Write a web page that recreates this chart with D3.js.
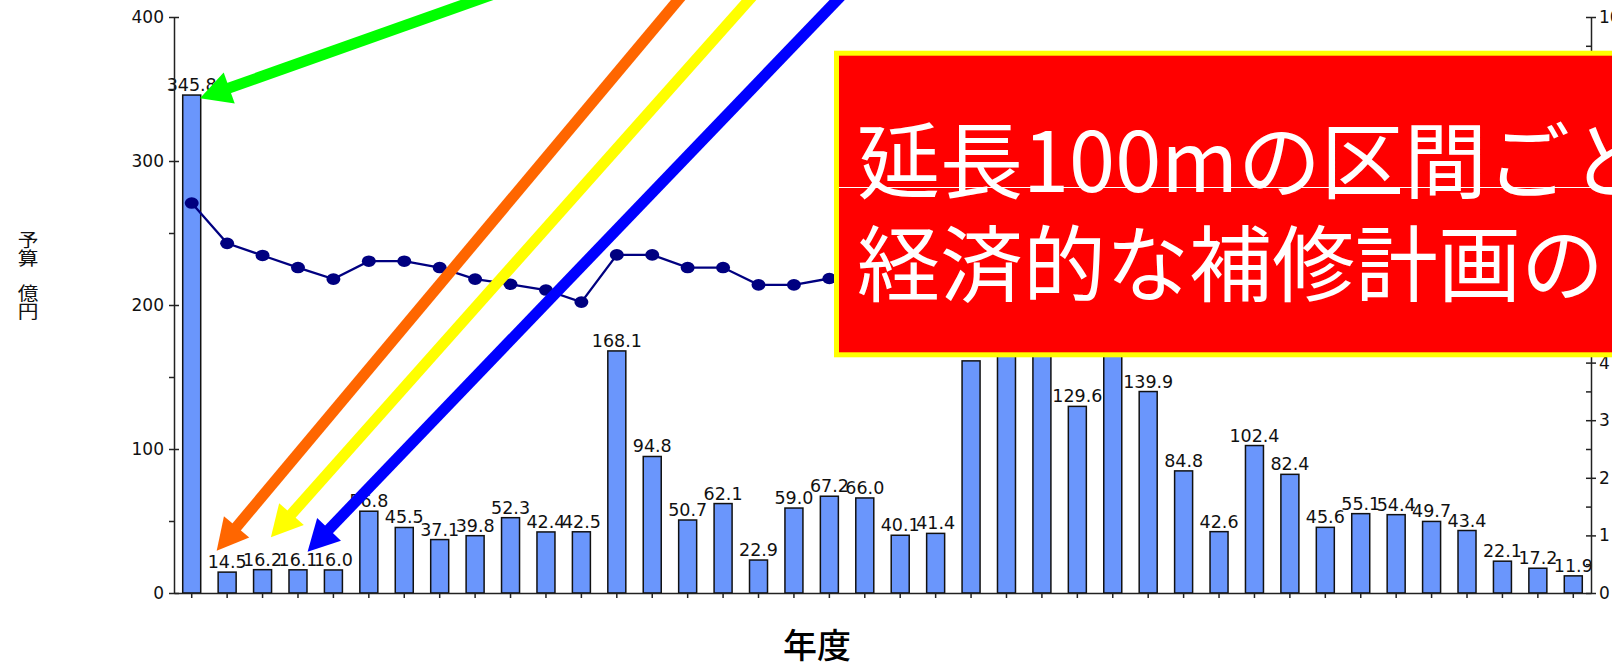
<!DOCTYPE html>
<html>
<head>
<meta charset="utf-8">
<script src="https://cdn.jsdelivr.net/npm/d3@7/dist/d3.min.js"></script>
<style>
  html, body { margin: 0; padding: 0; background: #ffffff; overflow: hidden; }
  svg { display: block; }
</style>
</head>
<body>
<svg id="chart" width="1612" height="664"></svg>
<script>
// Fiscal-year slots along the x axis (unlabelled in the chart)
const periods = ["1","2","3","4","5","6","7","8","9","10",
                 "11","12","13","14","15","16","17","18","19","20",
                 "21","22","23","24","25","26","27","28","29","30",
                 "31","32","33","34","35","36","37","38","39","40"];

// Budget per year (億円), left axis
const budget = [345.8, 14.5, 16.2, 16.1, 16.0, 56.8, 45.5, 37.1, 39.8, 52.3,
                42.4, 42.5, 168.1, 94.8, 50.7, 62.1, 22.9, 59.0, 67.2, 66.0,
                40.1, 41.4, 161.2, 196.5, 214.3, 129.6, 183.7, 139.9, 84.8, 42.6,
                102.4, 82.4, 45.6, 55.1, 54.4, 49.7, 43.4, 22.1, 17.2, 11.9];

// Soundness index per year, right axis
const soundness = [6.77, 6.07, 5.86, 5.65, 5.45, 5.76, 5.76, 5.65, 5.45, 5.36,
                   5.26, 5.05, 5.87, 5.87, 5.65, 5.65, 5.35, 5.35, 5.46, 5.52,
                   5.52, 5.41, 5.63, 5.63, 5.48, 5.40, 5.40, 5.31, 5.57, 5.57,
                   5.44, 5.35, 5.35, 5.26, 5.22, 5.22, 5.15, 5.10, 5.10, 5.04];

// Axis ticks
const leftMajor = [0, 100, 200, 300, 400];
const leftMinor = [50, 150, 250, 350];
const rightMajor = [0, 1, 2, 3, 4, 5, 6, 7, 8, 9, 10];
const rightMinor = [0.5, 1.5, 2.5, 3.5, 4.5, 5.5, 6.5, 7.5, 8.5, 9.5];

// Callout arrows: tip and tail in (slot units, budget units)
const arrowColors    = ["#00ff00", "#ff6600", "#ffff00", "#0000ff"];
const arrowTipSlot   = [0.734, 1.205, 2.735, 3.771];
const arrowTipValue  = [343.5, 29.4, 38.7, 28.7];
const arrowTailSlot  = [11.78, 15.19, 17.25, 19.82];
const arrowTailValue = [440, 440, 440, 440];

// Banner text
const bannerLines = ["延長100mの区間ごと", "経済的な補修計画の"];
const yLabelChars = ["予", "算", "億", "円"];
const xLabel = "年度";

const svg = d3.select("#chart");
const plotL = 174, plotR = 1591, plotT = 17, plotB = 593;

const x = d3.scaleBand().domain(periods).range([plotL, plotR]).paddingInner(0).paddingOuter(0);
const slot = d3.scaleLinear().domain([0, periods.length]).range([plotL, plotR]);
const y = d3.scaleLinear().domain([0, 400]).range([plotB, plotT]);
const yR = d3.scaleLinear().domain([0, 10]).range([plotB, plotT]);

const barW = 18;
const numFont = "'DejaVu Sans', sans-serif";
const cjkFont = "'Noto Sans CJK JP', 'Noto Sans', sans-serif";
const cx = i => x(periods[i]) + x.bandwidth() / 2;

// Bars
svg.append("g").selectAll("rect")
  .data(budget)
  .join("rect")
  .attr("x", (d, i) => cx(i) - barW / 2)
  .attr("y", d => y(d))
  .attr("width", barW)
  .attr("height", d => y(0) - y(d))
  .attr("fill", "#6a96fc")
  .attr("stroke", "#111")
  .attr("stroke-width", 1.5);

// Bar value labels
svg.append("g").selectAll("text")
  .data(budget)
  .join("text")
  .attr("x", (d, i) => cx(i))
  .attr("y", d => y(d) - 4)
  .attr("text-anchor", "middle")
  .attr("font-family", numFont)
  .attr("font-size", 17.5)
  .attr("fill", "#111")
  .text(d => d.toFixed(1));

// Axes
function styleAxis(g) {
  g.selectAll("path.domain").attr("stroke", "#222").attr("stroke-width", 1.5);
  g.selectAll(".tick line").attr("stroke", "#222").attr("stroke-width", 1.5);
  g.selectAll(".tick text").attr("font-family", numFont).attr("font-size", 17).attr("fill", "#111");
}

const gL = svg.append("g").attr("transform", `translate(${plotL},0)`)
  .call(d3.axisLeft(y).tickValues(leftMajor).tickSize(5).tickSizeOuter(0).tickPadding(5).tickFormat(d3.format("d")));
gL.selectAll(".tick line").attr("x1", 5);
styleAxis(gL);
const gLm = svg.append("g").attr("transform", `translate(${plotL},0)`)
  .call(d3.axisLeft(y).tickValues(leftMinor).tickSize(5).tickFormat(""));
gLm.select("path.domain").remove();
styleAxis(gLm);

const gR = svg.append("g").attr("transform", `translate(${plotR},0)`)
  .call(d3.axisRight(yR).tickValues(rightMajor).tickSize(5).tickSizeOuter(0).tickPadding(3).tickFormat(d3.format("d")));
gR.selectAll(".tick line").attr("x1", -5);
styleAxis(gR);
const gRm = svg.append("g").attr("transform", `translate(${plotR},0)`)
  .call(d3.axisLeft(yR).tickValues(rightMinor).tickSize(5).tickFormat(""));
gRm.select("path.domain").remove();
styleAxis(gRm);

const gX = svg.append("g").attr("transform", `translate(0,${plotB})`)
  .call(d3.axisBottom(x).tickSize(5).tickSizeOuter(0).tickFormat(""));
styleAxis(gX);

// Soundness line with markers
const lineGen = d3.line()
  .x((d, i) => cx(i))
  .y(d => yR(d));
svg.append("path")
  .datum(soundness)
  .attr("d", lineGen)
  .attr("fill", "none")
  .attr("stroke", "#000080")
  .attr("stroke-width", 2.3);
svg.append("g").selectAll("ellipse")
  .data(soundness)
  .join("ellipse")
  .attr("cx", (d, i) => cx(i))
  .attr("cy", d => yR(d))
  .attr("rx", 7)
  .attr("ry", 5.8)
  .attr("fill", "#000080");

// Callout arrows
const headLen = 31, headHalf = 16.5, shaftW = 11;
const gA = svg.append("g");
arrowColors.forEach((c, k) => {
  const tx = slot(arrowTipSlot[k]), ty = y(arrowTipValue[k]);
  const ex = slot(arrowTailSlot[k]), ey = y(arrowTailValue[k]);
  const dx = ex - tx, dy = ey - ty, len = Math.hypot(dx, dy);
  const ux = dx / len, uy = dy / len, px = -uy, py = ux;
  const bx = tx + ux * headLen, by = ty + uy * headLen;
  gA.append("line")
    .attr("x1", tx + ux * (headLen - 2)).attr("y1", ty + uy * (headLen - 2))
    .attr("x2", ex).attr("y2", ey)
    .attr("stroke", c).attr("stroke-width", shaftW);
  gA.append("polygon")
    .attr("points", [[tx, ty], [bx + px * headHalf, by + py * headHalf], [bx - px * headHalf, by - py * headHalf]].map(p => p.join(",")).join(" "))
    .attr("fill", c);
});

// Axis titles
svg.append("g").selectAll("text")
  .data(yLabelChars)
  .join("text")
  .attr("transform", (d, i) => `translate(28,${[247, 265, 300, 318][i]}) scale(1.15,1)`)
  .attr("text-anchor", "middle")
  .attr("font-family", cjkFont)
  .attr("font-size", 18)
  .attr("fill", "#111")
  .text(d => d);

svg.append("text")
  .attr("x", 817)
  .attr("y", 658)
  .attr("text-anchor", "middle")
  .attr("font-family", cjkFont)
  .attr("font-weight", 500)
  .attr("font-size", 34)
  .attr("fill", "#000")
  .text(xLabel);

// Banner
svg.append("rect")
  .attr("x", 836.5).attr("y", 53.2)
  .attr("width", 900).attr("height", 301.6)
  .attr("fill", "#ff0000")
  .attr("stroke", "#ffff00")
  .attr("stroke-width", 5);
svg.append("g").selectAll("text")
  .data(bannerLines)
  .join("text")
  .attr("x", 857)
  .attr("y", (d, i) => [191.5, 294.5][i])
  .attr("font-family", cjkFont)
  .attr("font-size", 83)
  .attr("fill", "#ffffff")
  .text(d => d);
svg.append("line")
  .attr("x1", 839).attr("x2", 1612)
  .attr("y1", 187.5).attr("y2", 187.5)
  .attr("stroke", "#ffffff").attr("stroke-width", 1);
</script>
</body>
</html>
